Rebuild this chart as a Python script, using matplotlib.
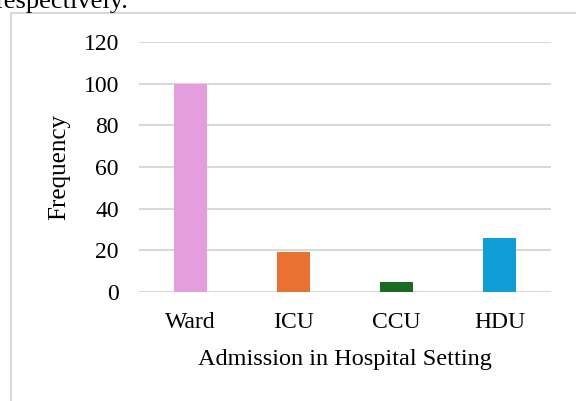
import numpy as np
import matplotlib.pyplot as plt
from matplotlib.patches import Rectangle

# datos
categorias = ['Ward', 'ICU', 'CCU', 'HDU']
frecuencias = [100, 19, 5, 26]
colores = ['#E59EDD', '#E97132', '#196B24', '#0F9ED5']
ticks_y = [0, 20, 40, 60, 80, 100, 120]

plt.rcParams['font.family'] = ['Liberation Serif', 'DejaVu Serif']

fig = plt.figure(figsize=(5.76, 4.01), dpi=100)

# marco del grafico y texto cortado de arriba
fig.patches.append(Rectangle((11 / 576, -0.01), 1.0, 1 - 13 / 401 + 0.01,
                             transform=fig.transFigure, fill=False,
                             edgecolor='#D9D9D9', linewidth=1.5))
fig.text(128 / 576, 1 - 8 / 401, 'respectively.', fontsize=19, va='baseline', ha='right')

ax = fig.add_axes([139 / 576, 1 - 292 / 401, 412 / 576, 250 / 401])
x = np.arange(len(categorias))
ax.bar(x, frecuencias, width=0.32, color=colores, zorder=3)
ax.set_xlim(-0.5, len(categorias) - 0.5)
ax.set_ylim(0, 120)
ax.set_yticks(ticks_y)
ax.set_xticks(x)
ax.set_xticklabels(categorias)
ax.grid(axis='y', color='#D9D9D9', linewidth=1.5, zorder=0)
for s in ax.spines.values():
    s.set_visible(False)
ax.tick_params(length=0, labelsize=17)
ax.tick_params(axis='x', pad=14.5)
ax.tick_params(axis='y', pad=14.5)
ax.set_xlabel('Admission in Hospital Setting', fontsize=17.5, labelpad=11.5)
ax.set_ylabel('Frequency', fontsize=18, labelpad=9.5)

plt.savefig('out.png', dpi=100)
